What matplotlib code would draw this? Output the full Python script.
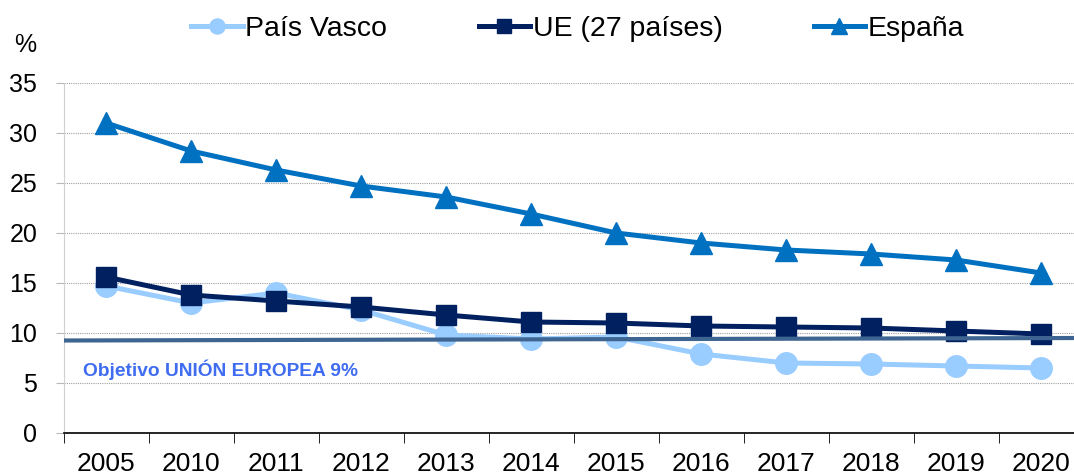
import numpy as np
import matplotlib.pyplot as plt

# Data
years = ['2005', '2010', '2011', '2012', '2013', '2014', '2015', '2016', '2017', '2018', '2019', '2020']
pais_vasco = [14.7, 13.0, 14.0, 12.3, 9.8, 9.4, 9.6, 7.9, 7.0, 6.9, 6.7, 6.5]
ue27 = [15.6, 13.8, 13.2, 12.6, 11.8, 11.1, 11.0, 10.7, 10.6, 10.5, 10.2, 9.9]
espana = [31.0, 28.2, 26.3, 24.7, 23.6, 21.9, 20.0, 19.0, 18.3, 17.9, 17.3, 16.0]
objetivo = [9.25, 9.5]  # target line, left edge -> right edge
objetivo_label = 'Objetivo UNIÓN EUROPEA 9%'

plt.rcParams['font.family'] = ['Liberation Sans', 'DejaVu Sans']

fig = plt.figure(figsize=(10.74, 4.76), dpi=100)
ax = fig.add_axes([63.7 / 1074, 1 - 433 / 476, 1020 / 1074, 350 / 476])

x = np.arange(len(years))

ax.plot(x, pais_vasco, color='#99CCFF', lw=3.6, marker='o', ms=15.5, label='País Vasco', zorder=3)
ax.plot(x, ue27, color='#002060', lw=3.6, marker='s', ms=14, label='UE (27 países)', zorder=4)
ax.plot(x, espana, color='#0070C0', lw=3.6, marker='^', ms=16, label='España', zorder=4)

# target line
ax.plot([-0.5, 11.5], objetivo, color='#3E6592', lw=3, zorder=5, solid_capstyle='butt')
ax.text(-0.27, 6.3, objetivo_label, color='#3F6CF0', fontsize=13.8, fontweight='bold',
        ha='left', va='center', zorder=6)

ax.set_xlim(-0.5, 11.5)
ax.set_ylim(0, 35)
ax.set_yticks(np.arange(0, 36, 5))
ax.yaxis.grid(True, color='#A0A0A0', linestyle=(0, (1, 1)), lw=0.8)
ax.set_axisbelow(True)

ax.set_xticks(x)
ax.set_xticklabels(years)
ax.set_xticks(np.arange(-0.5, 12, 1), minor=True)
ax.tick_params(axis='x', which='major', length=0, pad=14, labelsize=19)
ax.tick_params(axis='x', which='minor', length=7, direction='out', color='black')
ax.tick_params(axis='y', length=6, color='#B8B8B8', width=0.8, pad=13, labelsize=18)

for s in ['top', 'right']:
    ax.spines[s].set_visible(False)
ax.spines['left'].set_color('#D0D0D0')
ax.spines['bottom'].set_color('black')
ax.spines['bottom'].set_linewidth(1.2)

fig.text(0.013, 0.905, '%', fontsize=18, ha='left', va='center')

fig.legend(loc='center', bbox_to_anchor=(0.538, 0.94), ncol=3, frameon=False,
           fontsize=20.5, handlelength=1.8, handletextpad=0.1, columnspacing=3.2,
           markerscale=0.7)

fig.savefig('out.png', dpi=100)
